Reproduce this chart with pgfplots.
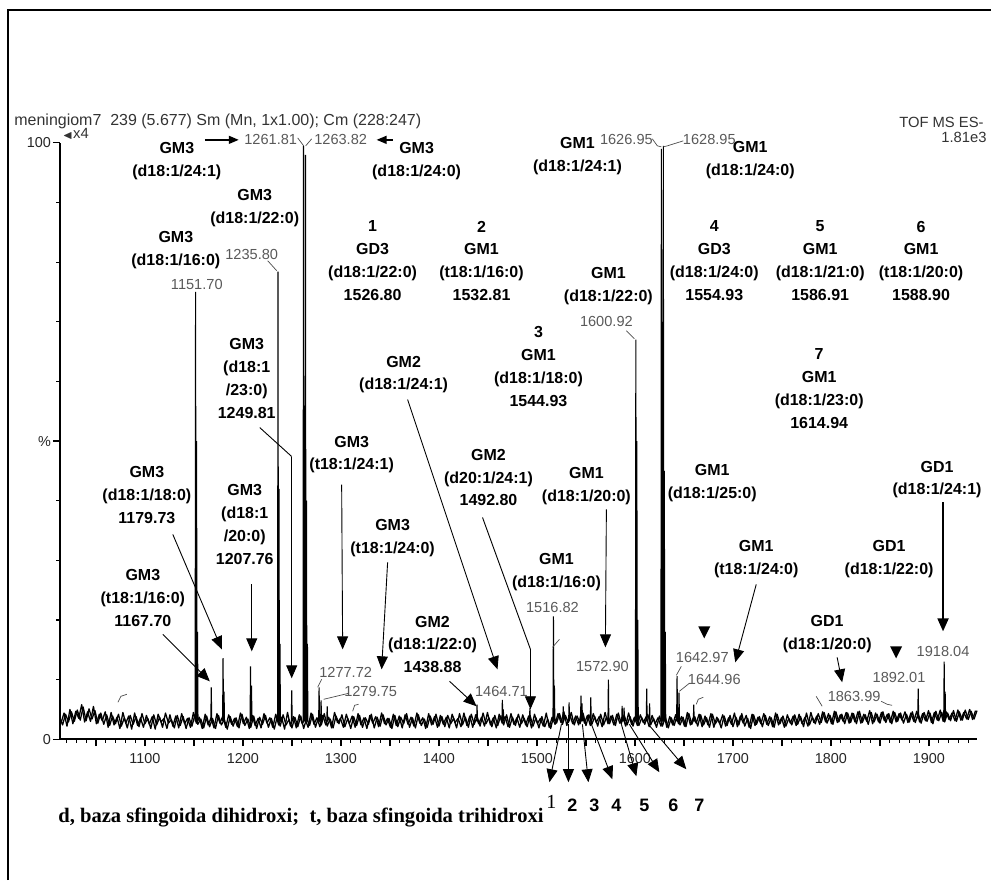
\documentclass[border=0pt]{standalone}
\usepackage{amssymb}
\usepackage{pgfplots}
\pgfplotsset{compat=1.18}
\usepackage{fontspec}
\setmainfont{Liberation Sans}
\newfontfamily\timesf{Liberation Serif}
\usetikzlibrary{arrows.meta}
\tikzset{
 lab/.style={font=\fontsize{8}{11.4}\selectfont\bfseries, align=center, inner sep=0pt},
 gl/.style={font=\fontsize{7.3}{8}\selectfont, text=black!65, inner sep=0pt},
 hd/.style={font=\fontsize{7.4}{8}\selectfont, text=black!80, inner sep=0pt},
 ar/.style={line width=0.45pt, -{Triangle[width=5.5pt,length=6.5pt]}},
 con/.style={line width=0.35pt, black!70},
}
\begin{document}
\begin{tikzpicture}
\begin{scope}[x=0.5pt,y=-0.5pt]
\path[use as bounding box] (0,0) rectangle (992,881);
\end{scope}
\begin{axis}[
  at={(30pt,-370pt)}, anchor=south west,
  scale only axis, width=459pt, height=298.5pt,
  xmin=1013.3, xmax=1949, ymin=0, ymax=100,
  axis lines*=left, axis line style={line width=0.9pt},
  clip=false,
  tick align=outside,
  xtick={1050,1100,...,1900},
  xticklabels={,1100,,1200,,1300,,1400,,1500,,1600,,1700,,1800,,1900},
  minor xtick={1020,1030,...,1940},
  ytick={0,50,100}, yticklabels={0,\%,100},
  minor ytick={10,20,...,90},
  major tick length=3.5pt, minor tick length=1.8pt,
  tick style={line width=0.6pt, black},
  ticklabel style={font=\fontsize{7.2}{8}\selectfont, text=black!85},
  yticklabel style={inner sep=0.8pt},
  unbounded coords=jump,
]
\addplot[black, line width=0.65pt, line join=round] coordinates {
(1013,3.6)(1016,2.4)(1019,4.2)(1022,2.9)(1025,4.6)(1028,3.0)(1031,4.9)(1034,3.2)(1037,5.4)(1040,3.1)
(1043,5.1)(1046,3.4)(1049,4.8)(1052,2.7)(1055,4.4)(1058,2.5)(1061,4.1)(1064,2.3)(1067,3.9)(1070,2.6)
(1073,4.2)(1076,2.2)(1079,3.6)(1082,1.9)(1085,4.0)(1088,2.5)(1091,3.8)(1094,2.1)(1097,4.3)(1100,2.6)
(1103,3.5)(1106,1.8)(1109,4.1)(1112,2.4)(1115,3.7)(1118,2.0)(1121,4.4)(1124,2.7)(1127,3.3)(1130,1.9)
(1133,4.0)(1136,2.3)(1139,3.8)(1142,1.8)(1145,3.6)(1148,2.2)(1151,4.1)(1154,2.5)(1157,3.4)(1160,1.9)
(1163,3.9)(1166,2.1)(1169,3.5)(1172,1.8)(1175,4.0)(1178,2.4)(1181,3.3)(1184,1.7)(1187,3.8)(1190,2.2)
(1193,3.6)(1196,1.9)(1199,4.2)(1202,2.3)(1205,3.4)(1208,2.0)(1211,3.9)(1214,1.8)(1217,3.7)(1220,2.5)
(1223,4.0)(1226,2.0)(1229,3.5)(1232,1.7)(1235,3.8)(1238,2.2)(1241,4.1)(1244,2.4)(1247,3.3)(1250,1.9)
(1253,3.7)(1256,2.1)(1259,3.9)(1262,1.8)(1265,3.5)(1268,2.3)(1271,4.2)(1274,2.0)(1277,3.6)(1280,2.4)
(1283,4.3)(1286,2.2)(1289,3.4)(1292,1.9)(1295,3.9)(1298,2.6)(1301,4.1)(1304,2.1)(1307,3.5)(1310,1.8)
(1313,3.8)(1316,2.3)(1319,4.0)(1322,2.0)(1325,3.6)(1328,2.5)(1331,4.2)(1334,1.9)(1337,3.7)(1340,2.2)
(1343,4.1)(1346,2.4)(1349,3.5)(1352,1.8)(1355,4.0)(1358,2.1)(1361,3.7)(1364,2.6)(1367,4.3)(1370,2.0)
(1373,3.6)(1376,1.9)(1379,4.1)(1382,2.3)(1385,3.4)(1388,2.0)(1391,3.9)(1394,2.5)(1397,4.2)(1400,2.2)
(1403,3.8)(1406,2.1)(1409,4.0)(1412,2.6)(1415,3.5)(1418,1.9)(1421,4.3)(1424,2.4)(1427,3.7)(1430,2.0)
(1433,4.2)(1436,2.5)(1439,3.8)(1442,2.2)(1445,4.4)(1448,2.6)(1451,3.6)(1454,2.1)(1457,4.0)(1460,2.3)
(1463,3.9)(1466,2.4)(1469,4.1)(1472,2.0)(1475,3.7)(1478,2.3)(1481,4.2)(1484,2.6)(1487,3.5)(1490,2.1)
(1493,4.0)(1496,2.2)(1499,3.6)(1502,1.9)(1505,3.8)(1508,2.1)(1511,3.4)(1514,1.8)(1517,3.9)(1520,2.7)
(1523,4.3)(1526,2.5)(1529,4.0)(1532,2.8)(1535,4.5)(1538,2.4)(1541,3.9)(1544,2.6)(1547,4.4)(1550,2.3)
(1553,4.1)(1556,2.5)(1559,3.8)(1562,2.2)(1565,4.2)(1568,2.4)(1571,3.7)(1574,2.6)(1577,4.0)(1580,2.3)
(1583,4.4)(1586,2.6)(1589,4.1)(1592,2.4)(1595,3.8)(1598,2.2)(1601,4.0)(1604,2.3)(1607,3.6)(1610,2.5)
(1613,4.2)(1616,2.4)(1619,3.5)(1622,2.0)(1625,3.9)(1628,2.2)(1631,3.7)(1634,1.9)(1637,3.6)(1640,2.3)
(1643,4.0)(1646,2.4)(1649,3.7)(1652,2.1)(1655,4.3)(1658,2.5)(1661,3.8)(1664,2.2)(1667,4.1)(1670,2.4)
(1673,3.6)(1676,2.0)(1679,4.2)(1682,2.6)(1685,3.4)(1688,1.9)(1691,3.9)(1694,2.3)(1697,4.0)(1700,2.1)
(1703,3.7)(1706,2.4)(1709,4.3)(1712,2.2)(1715,3.5)(1718,1.8)(1721,4.1)(1724,2.5)(1727,3.8)(1730,2.1)
(1733,4.0)(1736,2.3)(1739,3.6)(1742,2.0)(1745,4.2)(1748,2.6)(1751,3.9)(1754,2.2)(1757,3.5)(1760,2.4)
(1763,4.1)(1766,2.5)(1769,3.8)(1772,2.1)(1775,4.4)(1778,2.4)(1781,3.7)(1784,2.6)(1787,4.3)(1790,2.8)
(1793,4.5)(1796,2.7)(1799,4.0)(1802,2.5)(1805,4.6)(1808,2.9)(1811,4.2)(1814,2.6)(1817,4.4)(1820,2.8)
(1823,4.3)(1826,2.6)(1829,4.7)(1832,2.8)(1835,4.1)(1838,2.5)(1841,4.5)(1844,2.9)(1847,4.2)(1850,2.7)
(1853,4.6)(1856,2.8)(1859,4.3)(1862,2.6)(1865,4.5)(1868,3.0)(1871,4.4)(1874,2.7)(1877,4.2)(1880,2.9)
(1883,4.6)(1886,2.8)(1889,4.3)(1892,2.7)(1895,4.5)(1898,3.0)(1901,4.4)(1904,2.6)(1907,4.7)(1910,3.1)
(1913,4.5)(1916,2.9)(1919,4.4)(1922,3.1)(1925,4.8)(1928,3.0)(1931,4.6)(1934,3.2)(1937,4.9)(1940,3.3)
(1943,4.7)(1946,3.4)(1949,4.8)
};
\addplot[black, line width=0.65pt, line join=round] coordinates {
(1014.5,2.8)(1017.5,4.4)(1020.5,2.2)(1023.5,5.0)(1026.5,2.6)(1029.5,4.7)(1032.5,3.5)(1035.5,5.8)(1038.5,2.9)(1041.5,4.6)
(1044.5,3.0)(1047.5,5.5)(1050.5,2.6)(1053.5,4.2)(1056.5,3.1)(1059.5,4.6)(1062.5,2.0)(1065.5,4.5)(1068.5,2.4)(1071.5,3.7)
(1074.5,1.8)(1077.5,4.5)(1080.5,2.7)(1083.5,3.9)(1086.5,1.7)(1089.5,4.4)(1092.5,2.3)(1095.5,3.6)(1098.5,2.0)(1101.5,4.0)
(1104.5,2.5)(1107.5,3.8)(1110.5,1.7)(1113.5,4.2)(1116.5,2.9)(1119.5,3.5)(1122.5,1.8)(1125.5,4.1)(1128.5,2.2)(1131.5,3.9)
(1134.5,1.9)(1137.5,4.3)(1140.5,2.6)(1143.5,3.5)(1146.5,2.0)(1149.5,4.5)(1152.5,2.7)(1155.5,3.7)(1158.5,1.8)(1161.5,4.2)
(1164.5,2.4)(1167.5,3.6)(1170.5,1.9)(1173.5,4.3)(1176.5,2.7)(1179.5,3.9)(1182.5,2.0)(1185.5,4.1)(1188.5,2.5)(1191.5,3.5)
(1194.5,2.1)(1197.5,4.4)(1200.5,2.6)(1203.5,3.7)(1206.5,1.8)(1209.5,4.0)(1212.5,2.3)(1215.5,3.5)(1218.5,1.9)(1221.5,4.3)
(1224.5,2.7)(1227.5,3.6)(1230.5,2.0)(1233.5,4.2)(1236.5,2.4)(1239.5,3.7)(1242.5,1.7)(1245.5,4.5)(1248.5,2.2)(1251.5,3.8)
(1254.5,1.9)(1257.5,4.1)(1260.5,2.6)(1263.5,3.4)(1266.5,2.0)(1269.5,4.4)(1272.5,2.5)(1275.5,3.6)(1278.5,2.1)(1281.5,4.0)
(1284.5,2.4)(1287.5,3.7)(1290.5,1.9)(1293.5,4.5)(1296.5,2.8)(1299.5,3.5)(1302.5,2.0)(1305.5,4.2)(1308.5,2.6)(1311.5,3.9)
(1314.5,2.0)(1317.5,4.3)(1320.5,2.4)(1323.5,3.6)(1326.5,1.8)(1329.5,4.0)(1332.5,2.7)(1335.5,3.8)(1338.5,2.1)(1341.5,4.4)
(1344.5,2.6)(1347.5,3.5)(1350.5,2.0)(1353.5,4.2)(1356.5,2.3)(1359.5,3.9)(1362.5,1.9)(1365.5,4.1)(1368.5,2.5)(1371.5,3.7)
(1374.5,2.2)(1377.5,4.4)(1380.5,2.7)(1383.5,3.6)(1386.5,1.8)(1389.5,4.3)(1392.5,2.4)(1395.5,3.8)(1398.5,2.0)(1401.5,4.0)
(1404.5,2.5)(1407.5,3.7)(1410.5,1.9)(1413.5,4.2)(1416.5,2.8)(1419.5,3.5)(1422.5,2.1)(1425.5,4.4)(1428.5,2.3)(1431.5,3.9)
(1434.5,2.0)(1437.5,4.1)(1440.5,2.6)(1443.5,3.7)(1446.5,2.2)(1449.5,4.5)(1452.5,2.4)(1455.5,3.6)(1458.5,1.9)(1461.5,4.2)
(1464.5,2.7)(1467.5,3.8)(1470.5,2.1)(1473.5,4.3)(1476.5,2.5)(1479.5,3.6)(1482.5,2.0)(1485.5,4.1)(1488.5,2.4)(1491.5,3.9)
(1494.5,1.9)(1497.5,4.2)(1500.5,2.6)(1503.5,3.5)(1506.5,2.2)(1509.5,4.4)(1512.5,2.0)(1515.5,3.7)(1518.5,2.5)(1521.5,4.3)
(1524.5,2.8)(1527.5,4.6)(1530.5,2.3)(1533.5,4.1)(1536.5,2.6)(1539.5,3.9)(1542.5,2.4)(1545.5,4.7)(1548.5,2.7)(1551.5,4.0)
(1554.5,2.3)(1557.5,4.3)(1560.5,2.8)(1563.5,3.8)(1566.5,2.1)(1569.5,4.5)(1572.5,2.6)(1575.5,3.9)(1578.5,2.4)(1581.5,4.2)
(1584.5,2.7)(1587.5,3.9)(1590.5,2.2)(1593.5,4.4)(1596.5,2.5)(1599.5,3.7)(1602.5,2.3)(1605.5,4.1)(1608.5,2.8)(1611.5,3.8)
(1614.5,2.1)(1617.5,4.0)(1620.5,2.6)(1623.5,3.6)(1626.5,2.2)(1629.5,4.3)(1632.5,2.0)(1635.5,3.8)(1638.5,2.4)(1641.5,4.1)
(1644.5,2.6)(1647.5,3.8)(1650.5,2.2)(1653.5,4.5)(1656.5,2.4)(1659.5,3.6)(1662.5,2.7)(1665.5,4.2)(1668.5,2.1)(1671.5,3.9)
(1674.5,2.4)(1677.5,4.3)(1680.5,2.0)(1683.5,3.7)(1686.5,2.6)(1689.5,4.1)(1692.5,2.2)(1695.5,3.6)(1698.5,2.5)(1701.5,4.4)
(1704.5,2.1)(1707.5,3.9)(1710.5,2.7)(1713.5,4.0)(1716.5,2.0)(1719.5,4.2)(1722.5,2.3)(1725.5,3.7)(1728.5,2.6)(1731.5,4.3)
(1734.5,2.5)(1737.5,3.8)(1740.5,2.1)(1743.5,4.4)(1746.5,2.4)(1749.5,3.6)(1752.5,2.0)(1755.5,4.1)(1758.5,2.7)(1761.5,3.9)
(1764.5,2.3)(1767.5,4.2)(1770.5,2.6)(1773.5,3.7)(1776.5,2.2)(1779.5,4.5)(1782.5,2.8)(1785.5,3.9)(1788.5,2.5)(1791.5,4.6)
(1794.5,2.9)(1797.5,4.3)(1800.5,2.6)(1803.5,4.7)(1806.5,2.8)(1809.5,4.1)(1812.5,3.0)(1815.5,4.5)(1818.5,2.7)(1821.5,4.4)
(1824.5,2.9)(1827.5,4.6)(1830.5,2.7)(1833.5,4.2)(1836.5,3.0)(1839.5,4.8)(1842.5,2.6)(1845.5,4.4)(1848.5,2.9)(1851.5,4.5)
(1854.5,3.1)(1857.5,4.2)(1860.5,2.8)(1863.5,4.7)(1866.5,2.9)(1869.5,4.3)(1872.5,3.2)(1875.5,4.6)(1878.5,2.8)(1881.5,4.4)
(1884.5,3.0)(1887.5,4.7)(1890.5,2.9)(1893.5,4.3)(1896.5,3.1)(1899.5,4.8)(1902.5,2.8)(1905.5,4.5)(1908.5,3.2)(1911.5,4.9)
(1914.5,3.0)(1917.5,4.6)(1920.5,3.3)(1923.5,4.4)(1926.5,3.1)(1929.5,4.9)(1932.5,3.2)(1935.5,4.5)(1938.5,3.4)(1941.5,5.0)
(1944.5,3.3)(1947.5,4.8)
};
\addplot[black, line width=0.55pt] coordinates {
(1151.25,3)(1151.7,75)(1152.15,3)(1152.16,nan)
(1152.25,3)(1152.7,50)(1153.15,3)(1153.16,nan)
(1153.25,3)(1153.7,18)(1154.15,3)(1154.16,nan)
(1167.25,3)(1167.7,8.7)(1168.15,3)(1168.16,nan)
(1179.28,3)(1179.73,13.6)(1180.18,3)(1180.19,nan)
(1180.28,3)(1180.73,8)(1181.18,3)(1181.19,nan)
(1207.31,3)(1207.76,12.2)(1208.21,3)(1208.22,nan)
(1208.31,3)(1208.76,9)(1209.21,3)(1209.22,nan)
(1235.35,3)(1235.8,78.4)(1236.25,3)(1236.26,nan)
(1236.35,3)(1236.8,42)(1237.25,3)(1237.26,nan)
(1237.35,3)(1237.8,16)(1238.25,3)(1238.26,nan)
(1249.36,3)(1249.81,8.2)(1250.26,3)(1250.27,nan)
(1261.36,3)(1261.81,99.5)(1262.26,3)(1262.27,nan)
(1262.37,3)(1262.82,53)(1263.27,3)(1263.28,nan)
(1263.37,3)(1263.82,98)(1264.27,3)(1264.28,nan)
(1264.37,3)(1264.82,40)(1265.27,3)(1265.28,nan)
(1265.37,3)(1265.82,16)(1266.27,3)(1266.28,nan)
(1277.27,3)(1277.72,8.7)(1278.17,3)(1278.18,nan)
(1279.3,3)(1279.75,6.5)(1280.2,3)(1280.21,nan)
(1285.55,3)(1286,5.5)(1286.45,3)(1286.46,nan)
(1438.43,3)(1438.88,5.8)(1439.33,3)(1439.34,nan)
(1464.26,3)(1464.71,6.6)(1465.16,3)(1465.17,nan)
(1465.26,3)(1465.71,5)(1466.16,3)(1466.17,nan)
(1492.35,3)(1492.8,5.2)(1493.25,3)(1493.26,nan)
(1516.37,3)(1516.82,20.6)(1517.27,3)(1517.28,nan)
(1517.37,3)(1517.82,9)(1518.27,3)(1518.28,nan)
(1526.35,3)(1526.8,5.5)(1527.25,3)(1527.26,nan)
(1532.35,3)(1532.8,6.2)(1533.25,3)(1533.26,nan)
(1544.48,3)(1544.93,7.3)(1545.38,3)(1545.39,nan)
(1545.55,3)(1546,6)(1546.45,3)(1546.46,nan)
(1554.48,3)(1554.93,7)(1555.38,3)(1555.39,nan)
(1572.45,3)(1572.9,10)(1573.35,3)(1573.36,nan)
(1586.46,3)(1586.91,5.6)(1587.36,3)(1587.37,nan)
(1588.45,3)(1588.9,5.3)(1589.35,3)(1589.36,nan)
(1600.47,3)(1600.92,67)(1601.37,3)(1601.38,nan)
(1601.47,3)(1601.92,50)(1602.37,3)(1602.38,nan)
(1602.47,3)(1602.92,20)(1603.37,3)(1603.38,nan)
(1611.55,3)(1612,8.5)(1612.45,3)(1612.46,nan)
(1614.49,3)(1614.94,6)(1615.39,3)(1615.4,nan)
(1626.5,3)(1626.95,99)(1627.4,3)(1627.41,nan)
(1627.5,3)(1627.95,70)(1628.4,3)(1628.41,nan)
(1628.5,3)(1628.95,99.5)(1629.4,3)(1629.41,nan)
(1629.5,3)(1629.95,45)(1630.4,3)(1630.41,nan)
(1630.5,3)(1630.95,18)(1631.4,3)(1631.41,nan)
(1642.52,3)(1642.97,10.6)(1643.42,3)(1643.43,nan)
(1644.51,3)(1644.96,7.8)(1645.41,3)(1645.42,nan)
(1659.55,3)(1660,5.8)(1660.45,3)(1660.46,nan)
(1888.55,3.5)(1889,8.5)(1889.45,3.5)(1889.46,nan)
(1915.05,3.5)(1915.5,13)(1915.95,3.5)(1915.96,nan)
(1916.05,3.5)(1916.5,8)(1916.95,3.5)
};
\end{axis}
\begin{scope}[x=0.5pt,y=-0.5pt]
\draw[line width=1pt] (8,881) -- (8,10) -- (992,10);
% header
\node[hd, anchor=west, font=\fontsize{8}{9}\selectfont] at (14,121) {meningiom7\ \ 239 (5.677) Sm (Mn, 1x1.00); Cm (228:247)};
\node[hd, anchor=east] at (985,123) {TOF MS ES-};
\node[hd, anchor=east] at (988,138) {1.81e3};
\node[hd, anchor=west] at (62,134) {{\tiny$\blacktriangleleft$}x4};
% bold labels
\node[lab] at (177,161.5) {GM3\\(d18:1/24:1)};
\node[lab] at (417,161.5) {GM3\\(d18:1/24:0)};
\node[lab] at (255,208.5) {GM3\\(d18:1/22:0)};
\node[lab] at (176,250) {GM3\\(d18:1/16:0)};
\node[lab] at (247,379) {GM3\\(d18:1\\/23:0)\\1249.81};
\node[lab] at (147,495.5) {GM3\\(d18:1/18:0)\\1179.73};
\node[lab] at (245,525) {GM3\\(d18:1\\/20:0)\\1207.76};
\node[lab] at (143,598.5) {GM3\\(t18:1/16:0)\\1167.70};
\node[lab] at (352,455) {GM3\\(t18:1/24:1)};
\node[lab] at (393,539) {GM3\\(t18:1/24:0)};
\node[lab] at (404,375) {GM2\\(d18:1/24:1)};
\node[lab] at (373,261) {1\\GD3\\(d18:1/22:0)\\1526.80};
\node[lab] at (482,261) {2\\GM1\\(t18:1/16:0)\\1532.81};
\node[lab] at (578,156.5) {GM1\\(d18:1/24:1)};
\node[lab] at (751,160.5) {GM1\\(d18:1/24:0)};
\node[lab] at (609,286) {GM1\\(d18:1/22:0)};
\node[lab] at (539,367) {3\\GM1\\(d18:1/18:0)\\1544.93};
\node[lab] at (489,478) {GM2\\(d20:1/24:1)\\1492.80};
\node[lab] at (587,486.5) {GM1\\(d18:1/20:0)};
\node[lab] at (557,572.5) {GM1\\(d18:1/16:0)};
\node[lab] at (433,645) {GM2\\(d18:1/22:0)\\1438.88};
\node[lab] at (715,261) {4\\GD3\\(d18:1/24:0)\\1554.93};
\node[lab] at (821,261) {5\\GM1\\(d18:1/21:0)\\1586.91};
\node[lab] at (922,261) {6\\GM1\\(t18:1/20:0)\\1588.90};
\node[lab] at (820,389) {7\\GM1\\(d18:1/23:0)\\1614.94};
\node[lab] at (713,483.5) {GM1\\(d18:1/25:0)};
\node[lab] at (938,480) {GD1\\(d18:1/24:1)};
\node[lab] at (757,559.5) {GM1\\(t18:1/24:0)};
\node[lab] at (890,559.5) {GD1\\(d18:1/22:0)};
\node[lab] at (828,635) {GD1\\(d18:1/20:0)};
% peak labels
\node[gl] at (197,285) {1151.70};
\node[gl] at (252,255) {1235.80};
\node[gl] at (271,140) {1261.81};
\node[gl] at (341,140) {1263.82};
\node[gl] at (627,140) {1626.95};
\node[gl] at (710,140) {1628.95};
\node[gl] at (607,322) {1600.92};
\node[gl] at (553,608) {1516.82};
\node[gl] at (603,667) {1572.90};
\node[gl] at (502,692) {1464.71};
\node[gl] at (346,673) {1277.72};
\node[gl] at (371,692) {1279.75};
\node[gl] at (703,658) {1642.97};
\node[gl] at (715,680) {1644.96};
\node[gl] at (855,697) {1863.99};
\node[gl] at (900,678) {1892.01};
\node[gl] at (944,652) {1918.04};
% connectors
\draw[con] (268,261) -- (277,271);
\draw[con] (298,138) -- (304,146);
\draw[con] (312,139) -- (306,146);
\draw[con] (653,139) -- (658,146) -- (662,147);
\draw[con] (684,141) -- (668,146) -- (664,147);
\draw[con] (627,331) -- (635,339);
\draw[con] (318,688) -- (322,680);
\draw[con] (349,694) -- (324,700);
\draw[con] (682,667) -- (677,676);
\draw[con] (690,684) -- (680,692);
\draw[con] (882,702) -- (888,705) -- (893,706);
\draw[con] (118,703) -- (121,697) -- (127,695);
\draw[con] (353,712) -- (355,706) -- (359,705);
\draw[con] (697,705) -- (699,700) -- (704,698);
\draw[con] (817,697) -- (823,707);
\draw[con] (553,648) -- (560,640);
% arrows
\draw[line width=0.7pt,-{Triangle[width=4pt,length=5pt]}] (205,140) -- (239,140);
\draw[line width=0.7pt,-{Triangle[width=4pt,length=5pt]}] (393,140) -- (377,140);
\draw[ar] (173,535) -- (222,650);
\draw[ar] (252,585) -- (252,652);
\draw[ar] (163,635) -- (210,682);
\draw[line width=0.45pt] (260,428) -- (292,457);
\draw[ar] (292,457) -- (292,679);
\draw[ar] (342,485) -- (343,650);
\draw[ar] (388,563) -- (382,670);
\draw[ar] (408,400) -- (498,670);
\draw[ar] (450,682) -- (477,707);
\draw[line width=0.45pt] (483,518) -- (531,650);
\draw[ar] (531,650) -- (531,710);
\draw[ar] (607,510) -- (606,648);
\draw[ar] (757,585) -- (736,663);
\draw[ar, line width=1pt] (944,503) -- (944,632);
\draw[ar] (838,658) -- (843,683);
\fill (699,627) -- (711,627) -- (705,639) -- cycle;
\fill (891,647) -- (903,647) -- (897,659) -- cycle;
% arrows 1-7
\draw[ar] (562,725) -- (550,783);
\draw[ar] (569,725) -- (569,783);
\draw[ar] (583,725) -- (589,783);
\draw[ar] (592,725) -- (613,780);
\draw[ar] (622,725) -- (637,777);
\draw[ar] (630,725) -- (660,773);
\draw[ar] (649,725) -- (687,770);
\node[anchor=base, inner sep=0, font=\timesf\fontsize{10}{12}\selectfont] at (552,809) {1};
\node[anchor=base, inner sep=0, font=\bfseries\fontsize{9}{11}\selectfont] at (573,812) {2};
\node[anchor=base, inner sep=0, font=\bfseries\fontsize{9}{11}\selectfont] at (595,812) {3};
\node[anchor=base, inner sep=0, font=\bfseries\fontsize{9}{11}\selectfont] at (617,812) {4};
\node[anchor=base, inner sep=0, font=\bfseries\fontsize{9}{11}\selectfont] at (645,812) {5};
\node[anchor=base, inner sep=0, font=\bfseries\fontsize{9}{11}\selectfont] at (674,812) {6};
\node[anchor=base, inner sep=0, font=\bfseries\fontsize{9}{11}\selectfont] at (700,812) {7};
\node[anchor=base west, inner sep=0, font=\timesf\bfseries\fontsize{10.3}{12}\selectfont] at (58,823) {d, baza sfingoida dihidroxi;\ \ t, baza sfingoida trihidroxi};
\end{scope}
\end{tikzpicture}
\end{document}
